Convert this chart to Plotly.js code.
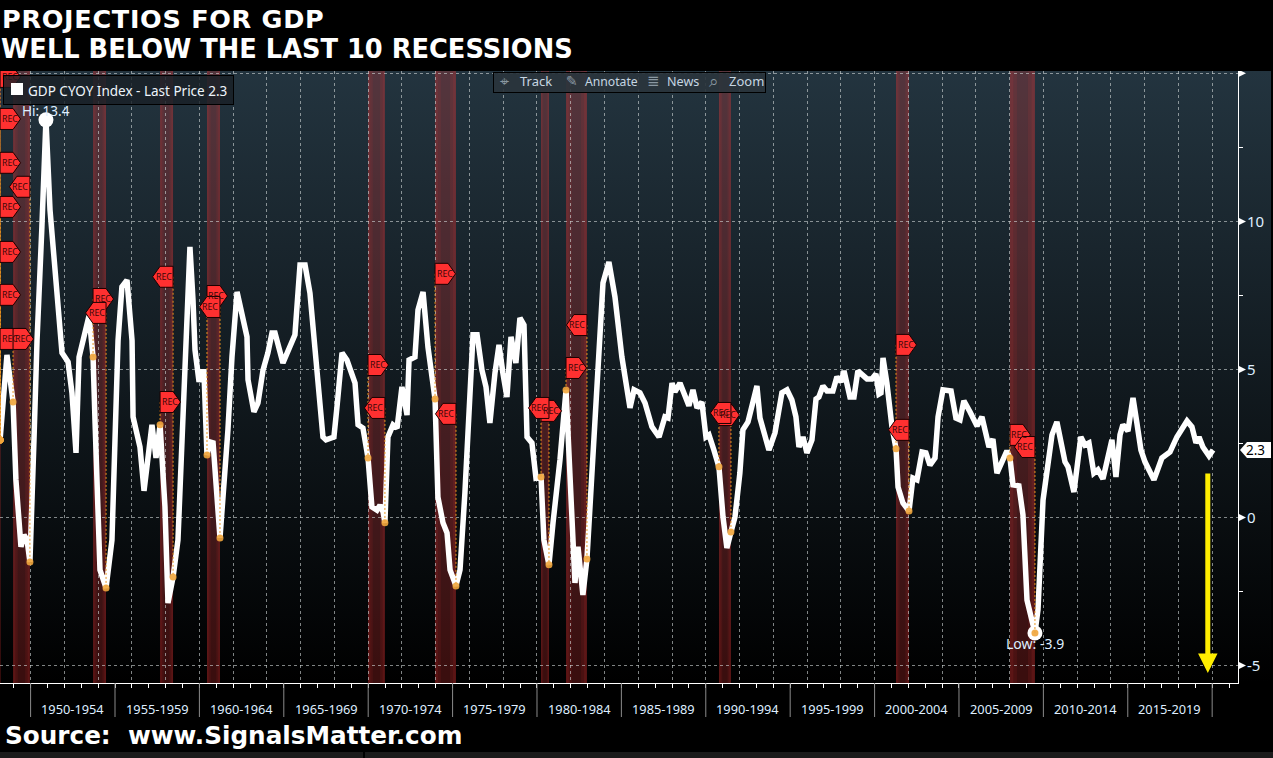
<!DOCTYPE html>
<html>
<head>
<meta charset="utf-8">
<script src="https://cdn.plot.ly/plotly-3.0.1.min.js"></script>
<style>
html,body{margin:0;padding:0;background:#000;width:1273px;height:758px;overflow:hidden}
#bg{position:absolute;left:0;top:71px;width:1271px;height:612px;background:linear-gradient(#23343f,#000)}
#chart{position:absolute;left:0;top:0;width:1273px;height:758px}
.gtitle{letter-spacing:.7px}
</style>
</head>
<body>
<div id="bg"></div>
<div id="chart"></div>
<script>
var gdpYears=[1948.19,1948.60,1948.96,1949.13,1949.43,1949.61,1949.79,1949.96,1950.20,1950.38,1950.67,1950.91,1951.15,1951.56,1951.86,1952.22,1952.45,1952.69,1952.87,1953.46,1953.70,1953.82,1953.99,1954.11,1954.47,1954.82,1955.00,1955.18,1955.41,1955.71,1956.01,1956.07,1956.48,1956.72,1957.19,1957.43,1957.67,1957.96,1958.14,1958.44,1958.73,1958.97,1959.15,1959.27,1959.44,1959.62,1959.74,1959.98,1960.09,1960.27,1960.45,1960.63,1960.81,1961.22,1961.40,1961.69,1961.93,1962.23,1962.82,1962.88,1963.23,1963.47,1963.77,1964.06,1964.30,1964.48,1964.95,1965.66,1965.96,1966.26,1966.55,1967.03,1967.14,1967.32,1967.50,1967.97,1968.15,1968.45,1968.74,1969.04,1969.22,1969.40,1969.69,1969.99,1970.22,1970.52,1970.70,1970.88,1970.99,1971.17,1971.47,1971.71,1972.00,1972.30,1972.42,1972.77,1972.95,1973.25,1973.54,1973.78,1973.96,1974.13,1974.43,1974.67,1974.85,1975.20,1975.44,1975.73,1975.91,1976.21,1976.45,1976.74,1976.98,1977.21,1977.51,1977.75,1977.98,1978.22,1978.46,1978.75,1978.99,1979.23,1979.41,1979.70,1979.94,1980.24,1980.41,1980.71,1980.95,1981.36,1981.72,1981.95,1982.25,1982.43,1982.72,1982.96,1983.26,1983.55,1983.91,1984.26,1984.62,1985.03,1985.51,1985.75,1986.10,1986.40,1986.81,1987.23,1987.58,1987.76,1988.00,1988.17,1988.47,1989.00,1989.24,1989.48,1989.77,1990.01,1990.19,1990.48,1990.78,1991.02,1991.25,1991.49,1991.73,1992.02,1992.20,1992.50,1993.03,1993.21,1993.74,1994.10,1994.51,1994.81,1995.10,1995.34,1995.52,1995.76,1995.99,1996.29,1996.53,1996.70,1996.94,1997.18,1997.53,1997.77,1998.01,1998.19,1998.54,1998.78,1999.01,1999.55,1999.84,2000.08,2000.26,2000.38,2000.50,2000.73,2001.03,2001.27,2001.39,2001.68,2002.04,2002.27,2002.51,2002.81,2003.04,2003.28,2003.58,2003.76,2004.05,2004.53,2004.82,2005.06,2005.29,2005.65,2006.07,2006.36,2006.66,2006.78,2007.01,2007.25,2007.84,2008.02,2008.20,2008.55,2008.79,2009.03,2009.50,2009.68,2009.98,2010.21,2010.51,2010.80,2011.28,2011.46,2011.81,2012.22,2012.46,2012.70,2012.99,2013.23,2013.53,2014.06,2014.30,2014.54,2014.71,2015.01,2015.31,2015.54,2015.78,2016.02,2016.55,2017.02,2017.50,2017.91,2018.51,2018.80,2019.04,2019.22,2019.45,2019.81,2020.05];
var gdpValues=[2.62,5.49,3.90,1.27,-0.99,-0.59,-0.76,-1.50,2.62,5.97,9.82,13.43,10.39,7.79,5.56,5.25,4.21,2.18,5.42,6.81,5.42,3.19,-0.32,-1.77,-2.38,-0.76,2.62,5.97,7.79,8.02,5.97,3.40,2.38,0.90,3.13,2.01,3.13,0.36,-2.89,-2.01,-0.76,2.62,5.97,7.35,9.14,7.35,5.66,4.58,4.92,4.92,2.11,2.55,2.52,-0.69,0.59,2.96,5.42,7.62,6.10,4.65,3.57,3.87,4.98,5.56,6.23,6.23,5.22,6.17,8.53,8.53,7.58,4.65,4.31,2.72,2.62,2.72,3.73,5.56,5.32,4.88,4.54,3.13,3.02,2.01,0.36,0.25,0.42,0.19,-0.18,2.72,3.13,3.02,4.41,3.46,5.32,5.42,7.01,7.62,5.76,4.75,4.00,0.69,-0.18,-0.52,-1.77,-2.31,-1.77,0.83,2.62,6.17,6.17,4.98,4.41,3.19,4.88,5.83,4.88,4.07,6.10,5.22,6.74,6.50,2.72,2.52,1.33,1.37,-0.76,-1.60,-0.18,1.94,4.31,1.61,-2.21,-0.99,-2.62,-1.40,1.50,4.75,7.92,8.63,7.45,5.42,3.70,4.31,4.21,3.87,3.06,2.72,3.40,3.36,4.54,4.24,4.54,3.77,4.31,3.70,3.90,2.72,2.79,2.28,1.71,0.02,-1.03,-0.49,0.02,1.50,2.96,3.23,4.44,3.36,2.28,2.86,4.21,4.31,3.97,3.40,2.38,2.72,2.18,2.62,4.00,4.07,4.44,4.27,4.27,4.75,4.58,4.95,4.07,4.07,4.95,4.68,4.68,4.85,4.17,4.21,5.39,4.54,3.06,2.32,1.03,0.49,0.22,1.33,1.27,2.21,2.18,1.77,2.01,3.40,4.31,4.27,3.36,3.30,3.94,3.57,3.09,3.40,2.72,2.38,2.65,1.50,2.25,2.01,1.10,1.07,0.09,-2.79,-3.90,-3.12,0.59,1.61,2.79,3.23,1.88,1.71,0.86,2.72,2.45,2.52,1.50,1.61,1.30,2.62,1.37,2.79,3.13,2.92,4.04,3.19,2.28,1.88,1.27,2.01,2.21,2.72,3.26,3.06,2.52,2.72,2.38,2.08,2.28];

var recStart=[1948.00,1948.96,1953.70,1957.67,1960.45,1969.99,1973.96,1980.24,1981.72,1990.78,2001.27,2008.02];
var recEnd  =[1948.22,1949.96,1954.47,1958.44,1961.22,1970.99,1975.20,1980.71,1982.96,1991.49,2002.04,2009.50];

var flagYears =[1948.19,1948.19,1948.19,1948.19,1948.19,1948.19,1948.19,1948.96,1949.96,1953.70,1954.47,1957.67,1958.44,1960.45,1961.22,1969.99,1970.99,1973.96,1975.20,1980.24,1980.71,1981.72,1982.96,1990.78,1991.49,2001.27,2002.04,2008.02,2009.50];
var flagValues=[14.88,13.46,11.98,10.49,8.97,7.52,6.03,6.03,11.17,7.38,6.91,3.90,8.13,7.48,7.11,5.15,3.70,8.23,3.50,3.60,3.70,5.05,6.50,3.46,3.53,5.83,2.96,2.79,2.38];
var flagDirs  =[1,1,1,1,1,1,1,1,-1,1,-1,1,-1,1,-1,1,-1,1,-1,1,-1,1,-1,1,-1,1,-1,1,-1];
var flagDots  =[2.62,2.62,2.62,2.62,2.62,2.62,2.62,3.90,-1.50,5.42,-2.38,3.13,-2.01,2.11,-0.69,2.01,-0.18,4.00,-2.31,1.37,-1.60,4.31,-1.40,1.71,-0.49,2.32,0.22,2.01,-3.90];

var periodLabels=['1950-1954','1955-1959','1960-1964','1965-1969','1970-1974','1975-1979','1980-1984','1985-1989','1990-1994','1995-1999','2000-2004','2005-2009','2010-2014','2015-2019'];
var periodStarts=[1950,1955,1960,1965,1970,1975,1980,1985,1990,1995,2000,2005,2010,2015,2020];
var yTickVals=[-5,0,5,10,15];
var yTickText=['-5','0','5','10',''];
var hiPoint=[1950.91,13.43];
var loPoint=[2009.50,-3.90];
var lastValue=2.28;

/* layout helpers: pixel position to paper fraction */
var PW=1238, PT=71, PB=683, PH=PB-PT;
function fx(p){return p/PW;}
function fy(p){return (PB-p)/PH;}
var FONT='"Noto Sans", sans-serif', BOLD='"DejaVu Sans", sans-serif', LBL='#dfeeff';

var shapes=[], ann=[];

recStart.forEach(function(s,i){
  var e=recEnd[i], w=e-s, col='243,57,57';
  shapes.push({type:'rect',layer:'below',xref:'x',yref:'paper',x0:s,x1:e,y0:0,y1:1,line:{width:0},fillcolor:'rgba('+col+',0.24)'});
  [[0,.14,.18],[.14,.28,.09],[.72,.86,.09],[.86,1,.18]].forEach(function(t){
    shapes.push({type:'rect',layer:'below',xref:'x',yref:'paper',x0:s+t[0]*w,x1:s+t[1]*w,y0:0,y1:1,line:{width:0},fillcolor:'rgba('+col+','+t[2]+')'});
  });
});

periodStarts.forEach(function(s){
  shapes.push({type:'line',xref:'x',yref:'paper',x0:s,x1:s,y0:0,y1:fy(717),line:{color:'#8a8a8a',width:1}});
});

flagYears.forEach(function(yr,i){
  var d=flagDirs[i];
  var path=d>0?'M0,-10.5 L13,-10.5 L20.5,0 L13,10.5 L0,10.5 Z':'M0,-10.5 L-13,-10.5 L-20.5,0 L-13,10.5 L0,10.5 Z';
  shapes.push({type:'path',xsizemode:'pixel',ysizemode:'pixel',xref:'x',yref:'y',xanchor:yr,yanchor:flagValues[i],path:path,fillcolor:'#ff3030',line:{color:'#1a0000',width:1}});
  ann.push({xref:'x',yref:'y',x:yr,y:flagValues[i],xanchor:'center',yanchor:'middle',xshift:d*9.5,showarrow:false,text:'REC',font:{family:FONT,size:8.8,color:'#3a0808'}});
});

/* axis arrow ticks */
yTickVals.forEach(function(v){
  shapes.push({type:'path',xsizemode:'pixel',ysizemode:'pixel',xref:'paper',yref:'y',xanchor:1,yanchor:v,path:'M0,-4 L8,0 L0,4 Z',fillcolor:'#fff',line:{width:0}});
});
/* last value tag */
shapes.push({type:'path',xsizemode:'pixel',ysizemode:'pixel',xref:'paper',yref:'y',xanchor:1,yanchor:lastValue,path:'M2,0 L9,-8 L33,-8 L33,8 L9,8 Z',fillcolor:'#fff',line:{width:0}});
ann.push({xref:'paper',yref:'y',x:fx(1255),y:lastValue,xanchor:'center',yanchor:'middle',showarrow:false,text:'2.3',font:{family:FONT,size:13.5,color:'#000'}});

/* bottom strip */
shapes.push({type:'rect',xref:'paper',yref:'paper',x0:0,x1:fx(1273),y0:fy(752),y1:fy(758),fillcolor:'#1b1b1b',line:{width:0}});
shapes.push({type:'rect',xref:'paper',yref:'paper',x0:fx(363),x1:fx(365),y0:fy(752),y1:fy(758),fillcolor:'#000',line:{width:0}});

periodLabels.forEach(function(t,i){
  ann.push({xref:'x',yref:'paper',x:periodStarts[i]+2.5,y:fy(708.5),xanchor:'center',yanchor:'middle',showarrow:false,text:t,font:{family:FONT,size:12.8,color:LBL}});
});

/* Hi / Low labels */
ann.push({xref:'x',yref:'y',x:hiPoint[0],y:hiPoint[1],xanchor:'center',yanchor:'middle',yshift:9,showarrow:false,text:'Hi: 13.4',font:{family:FONT,size:13.5,color:LBL}});
ann.push({xref:'x',yref:'y',x:loPoint[0],y:loPoint[1],xanchor:'center',yanchor:'middle',yshift:-11,showarrow:false,text:'Low: -3.9',font:{family:FONT,size:14,color:LBL}});

/* legend box + square */
function box(l,t,r,b,bg,border,txt){
  return {xref:'paper',yref:'paper',x:fx(l),y:fy(t),xanchor:'left',yanchor:'top',width:r-l-2,height:b-t-2,borderpad:0,borderwidth:border?1:0,bordercolor:border||'rgba(0,0,0,0)',bgcolor:bg,showarrow:false,text:txt||' ',font:{size:1}};
}
ann.push(box(3,75,234,105,'rgba(24,32,38,0.82)','#000'));
ann.push(box(11,83,25,97,'#fff',null));
function label(x,y,t,size,col,fam){
  return {xref:'paper',yref:'paper',x:fx(x),y:fy(y),xanchor:'left',yanchor:'middle',showarrow:false,text:t,font:{family:fam||FONT,size:size,color:col}};
}
ann.push(label(26,90.5,'GDP CYOY Index - Last Price 2.3',13.5,'#eef5fb'));

/* toolbar */
ann.push(box(493,72,766,93,'rgba(42,52,60,0.92)','#000'));
[[558,559],[640,641],[703,704]].forEach(function(d){ann.push(box(d[0],73,d[1]+1,92,'#1a2026',null));});
ann.push(label(498,81,'\u2316',16,'#8a98a2','"DejaVu Sans"'));
ann.push(label(518,81,'Track',13,'#c6d6e2'));
ann.push(label(564,81,'\u270E',14,'#8a98a2','"DejaVu Sans"'));
ann.push(label(583,81,'Annotate',12.2,'#c6d6e2'));
ann.push(label(645,81,'\u2263',15,'#8a98a2','"DejaVu Sans"'));
ann.push(label(665,81,'News',12.6,'#c6d6e2'));
ann.push(label(707,81,'\u2315',17,'#8a98a2','"DejaVu Sans"'));
ann.push(label(727,81,'Zoom',13,'#c6d6e2'));

/* yellow arrow */
ann.push({xref:'x',yref:'y',axref:'x',ayref:'y',x:2019.74,y:-5.25,ax:2019.74,ay:1.54,text:'',showarrow:true,arrowhead:2,arrowsize:0.78,arrowwidth:5,arrowcolor:'#ffee00'});

/* headline lines */
var hl2=label(-1,49.5,'WELL BELOW THE LAST 10 RECESSIONS',25.7,'#fff',BOLD); hl2.font.weight=700;
ann.push(hl2);
var src=label(3,735,'Source:  www.SignalsMatter.com',24.7,'#fff',BOLD); src.font.weight=700;
ann.push(src);

var dotX=[],dotY=[],stemX=[],stemY=[];
flagYears.forEach(function(yr,i){
  stemX.push(yr,yr,null); stemY.push(flagValues[i],flagDots[i],null);
  dotX.push(yr); dotY.push(flagDots[i]);
});

var data=[
 {type:'scatter',mode:'lines',name:'GDP CYOY Index',x:gdpYears,y:gdpValues,line:{color:'#fff',width:5.5},hoverinfo:'skip',showlegend:false},
 {type:'scatter',mode:'markers',x:[hiPoint[0],loPoint[0]],y:[hiPoint[1],loPoint[1]],marker:{color:'#fff',size:15},hoverinfo:'skip',showlegend:false},
 {type:'scatter',mode:'lines',x:stemX,y:stemY,line:{color:'#e8951f',width:1,dash:'2px,2px'},connectgaps:false,hoverinfo:'skip',showlegend:false},
 {type:'scatter',mode:'markers',x:dotX,y:dotY,marker:{color:'rgba(240,165,60,0.9)',size:7},hoverinfo:'skip',showlegend:false}
];

var grid='rgba(205,212,212,0.62)';
var layout={
 width:1273,height:758,autosize:false,
 paper_bgcolor:'rgba(0,0,0,0)',plot_bgcolor:'rgba(0,0,0,0)',
 margin:{l:0,r:35,t:PT,b:758-PB,pad:0},
 showlegend:false,
 title:{text:'PROJECTIOS FOR GDP',x:2/1273,xanchor:'left',y:1-19.5/758,yanchor:'middle',font:{family:BOLD,size:25.5,color:'#fff',weight:700}},
 xaxis:{range:[1948.187,2021.53],type:'linear',tick0:1950,dtick:2,tickmode:'linear',showticklabels:false,ticks:'outside',ticklen:4,tickcolor:'#fff',
   showgrid:true,gridcolor:grid,griddash:'3px,3px',gridwidth:1,zeroline:false,showline:true,linecolor:'#fff',linewidth:1,
   minor:{tick0:1950,dtick:1,ticks:'outside',ticklen:4,tickcolor:'#fff',showgrid:false}},
 yaxis:{range:[-5.59,15.08],side:'right',tickmode:'array',tickvals:yTickVals,ticktext:yTickText,ticks:'outside',ticklen:5,tickcolor:'rgba(0,0,0,0)',
   tickfont:{family:FONT,size:15,color:LBL},showgrid:true,gridcolor:grid,griddash:'3px,3px',gridwidth:1,zeroline:false,showline:true,linecolor:'#fff',linewidth:1,
   minor:{tickmode:'linear',tick0:-5,dtick:2.5,ticks:'outside',ticklen:4,tickcolor:'#fff',showgrid:false}},
 shapes:shapes,annotations:ann
};
Plotly.newPlot('chart',data,layout,{displayModeBar:false,staticPlot:true});
</script>
</body>
</html>
